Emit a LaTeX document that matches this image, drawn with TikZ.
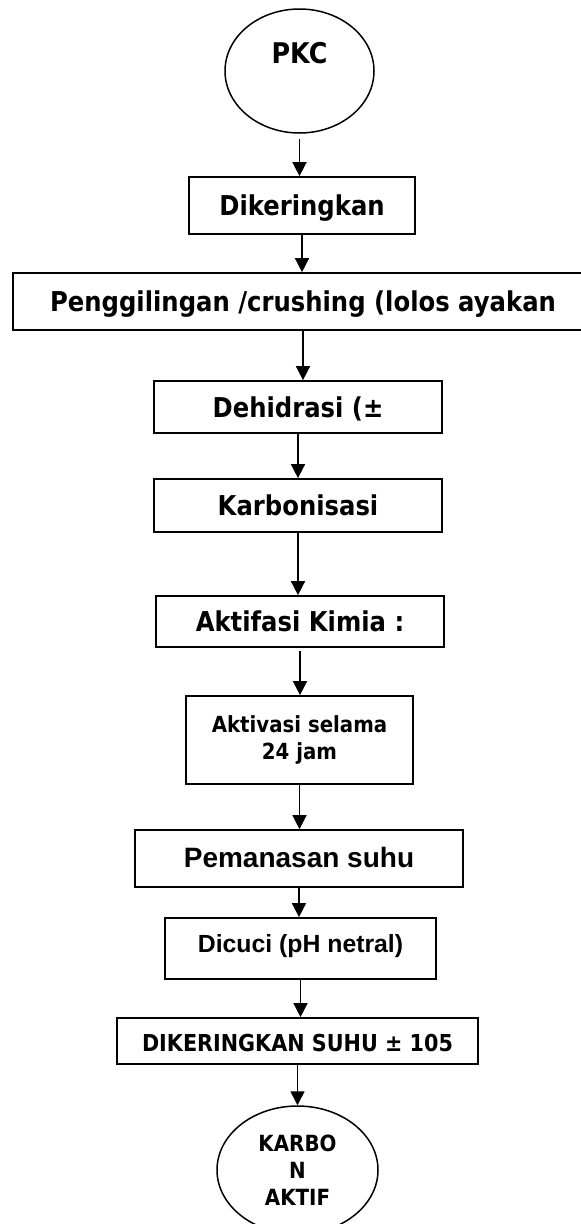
\documentclass[tikz,border=0pt]{standalone}
\usepackage{fontspec}
\setmainfont{DejaVu Sans}[FakeStretch=0.89]
\newfontfamily\arialfont{Liberation Sans}
\usepackage{tikz}
\usetikzlibrary{shapes.geometric, arrows.meta}

\begin{document}
\begin{tikzpicture}[
  x=1pt, y=-1pt,
  box/.style={draw, line width=1.7pt, inner sep=0pt, align=center, text height=20pt, text depth=0pt, font=\fontsize{27.3}{32}\selectfont\bfseries},
  oval/.style={draw, ellipse, line width=1.5pt, inner sep=0pt, align=center},
  arrow/.style={-{Triangle[width=14pt,length=14pt]}, line width=1.5pt}
]
\useasboundingbox (0,0) rectangle (581,1224);
\node[oval, minimum width=149pt, minimum height=124pt, font=\fontsize{28.5}{33}\selectfont\bfseries, text height=0pt, text depth=16pt] (pkc) at (299.5,71) {PKC};
\node[box, minimum width=226pt, minimum height=57pt] (dry) at (302,205.5) {Dikeringkan};
\node[box, minimum width=580pt, minimum height=57pt] (crush) at (303,301.5) {Penggilingan /crushing (lolos ayakan};
\node[box, minimum width=288pt, minimum height=52pt] (dehid) at (298,407) {Dehidrasi (±};
\node[box, minimum width=288pt, minimum height=53pt] (carb) at (298,505.5) {Karbonisasi};
\node[box, minimum width=288pt, minimum height=51pt] (chem) at (300,621.5) {Aktifasi Kimia :};
\node[box, minimum width=227pt, minimum height=88pt, text height=, text depth=, font=\fontsize{22.2}{27}\selectfont\bfseries] (soak) at (299.5,740) {Aktivasi selama\\24 jam};
\node[box, minimum width=328pt, minimum height=57pt, text height=17pt, font=\arialfont\fontsize{28}{33}\selectfont\bfseries] (heat) at (299,858.5) {Pemanasan suhu};
\node[box, minimum width=271pt, minimum height=61pt, text height=7pt, font=\arialfont\fontsize{24.8}{30}\selectfont\bfseries] (wash) at (300.5,948.5) {Dicuci (pH netral)};
\node[box, minimum width=361pt, minimum height=46pt, font=\fontsize{23.3}{28}\selectfont\bfseries] (dry2) at (297.5,1041) {DIKERINGKAN SUHU ± 105};
\node[oval, minimum width=161pt, minimum height=128pt, font=\fontsize{22.3}{27}\selectfont\bfseries] (out) at (297.5,1170) {KARBO\\N\\AKTIF};
\draw[arrow, shorten <=5pt] (pkc) -- (pkc |- dry.north);
\draw[arrow] (dry) -- (dry |- crush.north);
\draw[arrow] (crush) -- (crush |- dehid.north);
\draw[arrow] (dehid) -- (dehid |- carb.north);
\draw[arrow] (carb) -- (carb |- chem.north);
\draw[arrow, shorten <=3pt] (chem) -- (chem |- soak.north);
\draw[arrow] (soak) -- (soak |- heat.north);
\draw[arrow] (heat) -- (heat |- wash.north);
\draw[arrow] (wash) -- (wash |- dry2.north);
\draw[arrow] (dry2) -- (dry2 |- out.north);
\end{tikzpicture}
\end{document}
